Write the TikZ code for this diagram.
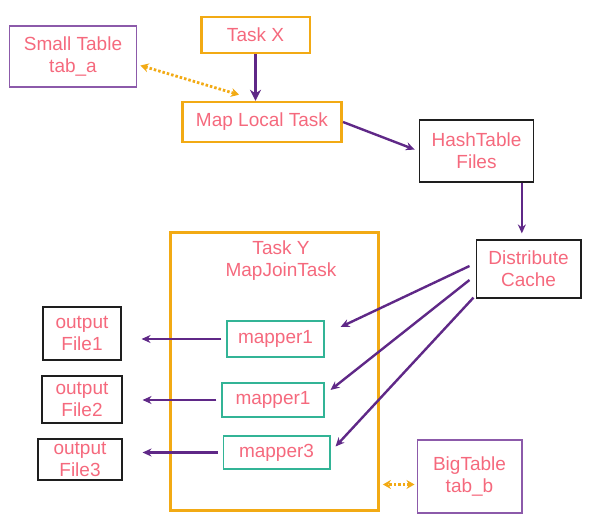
\documentclass[tikz,border=0pt]{standalone}
\usepackage{fontspec}
\setmainfont{Liberation Sans}
\usetikzlibrary{arrows.meta}
\definecolor{taskcol}{RGB}{242,170,20}
\definecolor{flowcol}{RGB}{95,40,135}
\definecolor{txtcol}{RGB}{245,105,125}
\definecolor{tabcol}{RGB}{140,90,170}
\definecolor{mapcol}{RGB}{50,180,150}
\definecolor{boxcol}{RGB}{30,30,30}

\begin{document}
\begin{tikzpicture}[x=1bp,y=-1bp,>=Stealth,font=\fontsize{19bp}{22bp}\selectfont,
  box/.style={inner sep=0pt,align=center,text=txtcol},
  task/.style={box,draw=taskcol,line width=2.6bp},
  tab/.style={box,draw=tabcol,line width=1.4bp},
  file/.style={box,draw=boxcol,line width=1.4bp},
  mapbox/.style={box,draw=mapcol,line width=1.4bp},
  flow/.style={flowcol,line width=2.4bp,-{Stealth[length=9bp,width=8bp]}},
  load/.style={taskcol,line width=2.8bp,dash pattern=on 2.5bp off 2bp,
    {Stealth[length=8bp,width=9bp]}-{Stealth[length=8bp,width=9bp]}}]
\useasboundingbox (0,0) rectangle (594,524);
% top row
\node[tab,minimum width=128,minimum height=61] (st) at (73,56.5) {Small Table\\tab\_a};
\node[task,minimum width=109,minimum height=36] (tx) at (255.5,35) {Task X};
\node[task,minimum width=160,minimum height=40] (ml) at (262,122) {Map Local Task};
\node[file,minimum width=115,minimum height=62] (ht) at (476.5,151) {HashTable\\Files};
\node[file,minimum width=105,minimum height=58] (dc) at (528.5,269) {Distribute\\Cache};
% map join task
\node[task,minimum width=209,minimum height=279] (ty) at (274.5,371.5) {};
\node[box] (tyl) at (281,261) {Task Y\\MapJoinTask};
\node[mapbox,minimum width=97,minimum height=36] (m1) at (275.5,339) {mapper1};
\node[mapbox,minimum width=102,minimum height=34] (m2) at (273,400) {mapper1};
\node[mapbox,minimum width=107,minimum height=33] (m3) at (276.5,452.5) {mapper3};
\node[file,minimum width=78,minimum height=53] (f1) at (82,333.5) {output\\File1};
\node[file,minimum width=80,minimum height=47] (f2) at (82,399.5) {output\\File2};
\node[file,minimum width=84,minimum height=41] (f3) at (80,459.5) {output\\File3};
\node[tab,minimum width=105,minimum height=73] (bt) at (469.5,476.5) {BigTable\\tab\_b};
% connectors
\draw[flow,line width=3.6bp,-{Stealth[length=11bp,width=11bp]}] (tx.south) -- (tx.south |- ml.north);
\draw[load] ([shift={(3,9)}]st.east) -- ([shift={(58,-6)}]ml.north west);
\draw[flow,shorten >=4bp] (ml.east) -- (ht.west);
\draw[flow,shorten >=6bp] ([xshift=45.5]ht.south) -- ([xshift=45.5]ht.south |- dc.north);
\draw[flow] ([shift={(-6,-3)}]dc.west) -- ([shift={(16,-12)}]m1.east);
\draw[flow] ([shift={(-6,11)}]dc.west) -- ([shift={(6,-10)}]m2.east);
\draw[flow] ([shift={(-2,-1)}]dc.south west) -- ([shift={(5,-6)}]m3.east);
\foreach \m/\f in {m1/f1,m2/f2,m3/f3}
  \draw[flow,shorten <=5bp,shorten >=20bp] (\m.west) -- (\m.west -| \f.east);
\draw[load,shorten <=2bp,shorten >=3bp] ([yshift=-8]bt.west) -- ([yshift=-8]bt.west -| ty.east);
\end{tikzpicture}
\end{document}
